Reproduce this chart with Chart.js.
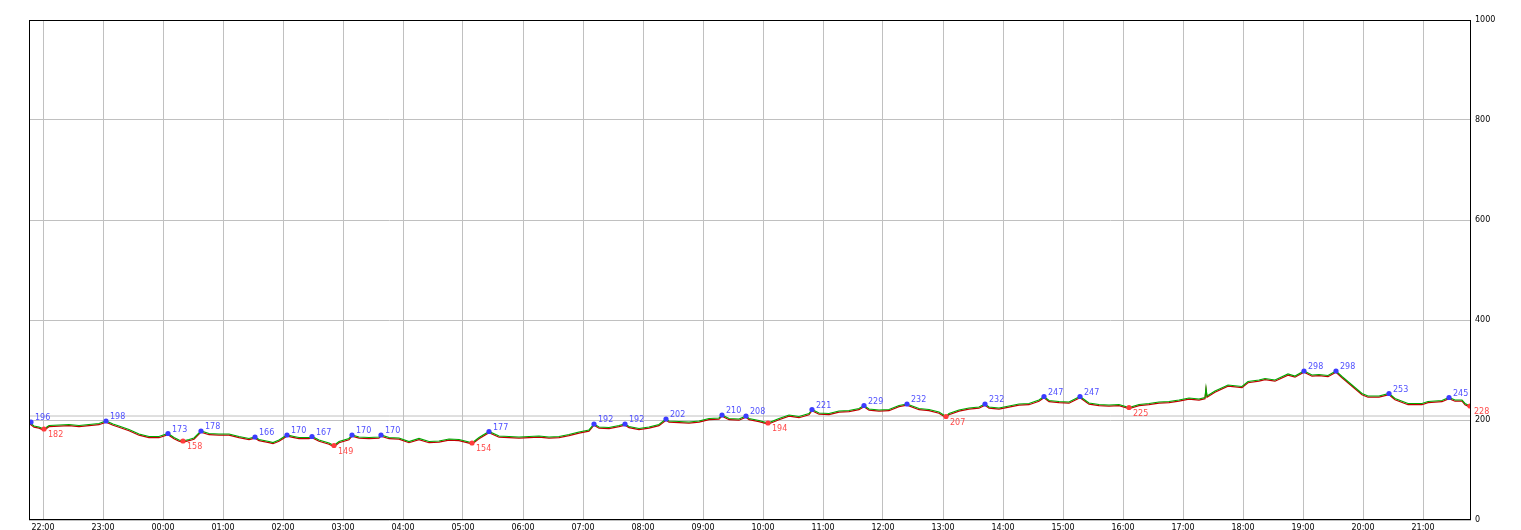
<!DOCTYPE html>
<html>
<head>
<meta charset="utf-8">
<script src="https://cdn.jsdelivr.net/npm/chart.js@4.4.1/dist/chart.umd.min.js"></script>
<style>
  html, body { margin: 0; padding: 0; background: #fff; }
  canvas { display: block; }
</style>
</head>
<body>
<canvas id="priceChart" width="1521" height="530"></canvas>
<script>
document.addEventListener('DOMContentLoaded', function () {
    // Window starts at 21:46, all times are minutes from there
    const startTime = '21:46';
    const windowMinutes = 1442;

    const hourLabels = ['22:00', '23:00', '00:00', '01:00', '02:00', '03:00', '04:00', '05:00',
        '06:00', '07:00', '08:00', '09:00', '10:00', '11:00', '12:00', '13:00', '14:00', '15:00',
        '16:00', '17:00', '18:00', '19:00', '20:00', '21:00'];

    const priceMinutes = [0, 5, 10, 15, 20, 30, 40, 50, 60, 70, 77, 84, 90, 100, 110, 120, 130, 139, 145, 150,
        154, 160, 165, 172, 180, 190, 200, 210, 220, 226, 230, 240, 244, 250, 258, 265, 270, 280, 283, 290,
        300, 305, 310, 320, 323, 330, 340, 350, 352, 360, 370, 380, 390, 400, 410, 420, 430, 440, 443, 450,
        460, 470, 480, 490, 500, 510, 520, 530, 540, 550, 560, 565, 570, 580, 590, 596, 600, 610, 620, 630,
        637, 640, 650, 660, 670, 680, 690, 693, 700, 710, 717, 720, 730, 739, 750, 760, 770, 780, 783, 790,
        800, 810, 820, 830, 835, 840, 850, 860, 870, 878, 890, 900, 910, 917, 920, 930, 940, 950, 956, 960,
        970, 980, 990, 1000, 1010, 1015, 1020, 1030, 1040, 1051, 1060, 1070, 1080, 1090, 1100, 1110, 1120, 1130, 1140, 1150,
        1160, 1170, 1176, 1177, 1178, 1186, 1199, 1213, 1219, 1230, 1236, 1246, 1259, 1266, 1275, 1283, 1290, 1299, 1307, 1313,
        1323, 1333, 1339, 1350, 1360, 1366, 1379, 1393, 1399, 1413, 1420, 1426, 1433, 1436, 1441];

    const priceValues = [196, 188, 186, 182, 189, 190, 191, 189, 191, 193, 198, 192, 188, 181, 172, 167, 167, 173, 165, 160,
        158, 161, 164, 178, 173, 172, 172, 167, 163, 166, 161, 157, 155, 160, 170, 167, 165, 165, 167, 160,
        154, 149, 157, 163, 170, 166, 165, 166, 170, 165, 164, 157, 163, 157, 158, 162, 161, 156, 154, 165,
        177, 168, 167, 166, 167, 168, 166, 167, 171, 176, 180, 192, 186, 185, 189, 192, 187, 183, 186, 191,
        202, 198, 197, 196, 198, 203, 204, 210, 203, 202, 208, 203, 199, 194, 203, 210, 207, 213, 221, 214,
        213, 218, 219, 223, 229, 222, 220, 221, 229, 232, 223, 221, 216, 207, 213, 220, 224, 226, 232, 226,
        224, 228, 232, 233, 240, 247, 239, 237, 236, 247, 234, 231, 230, 231, 225, 231, 233, 236, 237, 240,
        244, 242, 245, 264, 248, 258, 270, 267, 277, 280, 283, 280, 292, 288, 298, 290, 291, 289, 298, 287,
        270, 253, 248, 248, 253, 243, 233, 233, 237, 239, 245, 240, 240, 233, 228];

    // Marked highs (blue) and lows (red)
    const highMinutes = [2, 77, 139, 172, 226, 258, 283, 323, 352, 460, 565, 596, 637, 693, 717, 783, 835, 878,
        956, 1015, 1051, 1275, 1307, 1360, 1420];
    const highValues = [196, 198, 173, 178, 166, 170, 167, 170, 170, 177, 192, 192, 202, 210, 208, 221, 229, 232,
        232, 247, 247, 298, 298, 253, 245];
    const lowMinutes = [15, 154, 305, 443, 739, 917, 1100, 1441];
    const lowValues = [182, 158, 149, 154, 194, 207, 225, 228];

    const refLevel = 208;
    const yMax = 1000;
    const yStep = 200;

    function minutesFromStart(label) {
        const [h, m] = label.split(':').map(Number);
        const [sh, sm] = startTime.split(':').map(Number);
        return ((h * 60 + m) - (sh * 60 + sm) + 1440) % 1440;
    }
    const hourTicks = hourLabels.map(minutesFromStart);

    const FONT = 'DejaVu Sans';

    const priceData = priceMinutes.map((m, i) => ({ x: m, y: priceValues[i] }));

    // red copy sits a little under the green one
    const shiftRed = {
        id: 'shiftRed',
        beforeDatasetDraw(chart, args) {
            if (args.index === 1) {
                chart.ctx.save();
                chart.ctx.translate(0, 1.2);
            }
        },
        afterDatasetDraw(chart, args) {
            if (args.index === 1) chart.ctx.restore();
        }
    };

    const frame = {
        id: 'frame',
        afterDraw(chart) {
            const a = chart.chartArea;
            const ctx = chart.ctx;
            ctx.save();
            ctx.strokeStyle = '#000';
            ctx.lineWidth = 1;
            ctx.strokeRect(Math.round(a.left) + 0.5, Math.round(a.top) + 0.5,
                Math.round(a.right - a.left) - 1, Math.round(a.bottom - a.top) - 1);
            ctx.restore();
        }
    };

    const markerLabels = {
        id: 'markerLabels',
        afterDatasetsDraw(chart) {
            const ctx = chart.ctx;
            const xs = chart.scales.x;
            const ys = chart.scales.y;
            ctx.save();
            ctx.font = '8px "' + FONT + '"';
            ctx.textBaseline = 'middle';
            ctx.textAlign = 'left';
            ctx.fillStyle = '#5050ff';
            highMinutes.forEach((m, i) => {
                ctx.fillText(String(highValues[i]), xs.getPixelForValue(m) + 4, ys.getPixelForValue(highValues[i]) - 4);
            });
            ctx.fillStyle = '#ff4a4a';
            lowMinutes.forEach((m, i) => {
                ctx.fillText(String(lowValues[i]), xs.getPixelForValue(m) + 4, ys.getPixelForValue(lowValues[i]) + 6);
            });
            ctx.restore();
        }
    };

    new Chart(document.getElementById('priceChart'), {
        type: 'line',
        data: {
            datasets: [
                {
                    label: 'up',
                    data: priceData,
                    borderColor: '#00a800',
                    borderWidth: 1.2,
                    pointRadius: 0,
                    order: 2
                },
                {
                    label: 'down',
                    data: priceData,
                    borderColor: '#c00000',
                    borderWidth: 1.2,
                    pointRadius: 0,
                    order: 3
                },
                {
                    label: 'level',
                    data: [{ x: 0, y: refLevel }, { x: windowMinutes, y: refLevel }],
                    borderColor: '#c0c0c0',
                    borderWidth: 1,
                    pointRadius: 0,
                    order: 4
                },
                {
                    label: 'highs',
                    data: highMinutes.map((m, i) => ({ x: m, y: highValues[i] })),
                    showLine: false,
                    pointRadius: 2.6,
                    pointBackgroundColor: '#3c3cff',
                    pointBorderWidth: 0,
                    order: 1
                },
                {
                    label: 'lows',
                    data: lowMinutes.map((m, i) => ({ x: m, y: lowValues[i] })),
                    showLine: false,
                    pointRadius: 2.6,
                    pointBackgroundColor: '#ff3c3c',
                    pointBorderWidth: 0,
                    order: 1
                }
            ]
        },
        options: {
            responsive: false,
            animation: false,
            devicePixelRatio: 1,
            layout: { padding: { left: 29, top: 20, right: 0, bottom: 0 } },
            plugins: {
                legend: { display: false },
                tooltip: { enabled: false }
            },
            scales: {
                x: {
                    type: 'linear',
                    min: 0,
                    max: windowMinutes,
                    afterBuildTicks: scale => { scale.ticks = hourTicks.map(v => ({ value: v })); },
                    afterFit: scale => { scale.height = 10; },
                    grid: { color: '#c0c0c0', drawTicks: false },
                    border: { display: false },
                    ticks: {
                        autoSkip: false,
                        maxRotation: 0,
                        padding: 3,
                        color: '#000',
                        font: { family: FONT, size: 8 },
                        callback: (v, i) => hourLabels[i]
                    }
                },
                y: {
                    position: 'right',
                    min: 0,
                    max: yMax,
                    afterFit: scale => { scale.width = 50; },
                    grid: { color: '#c0c0c0', drawTicks: false },
                    border: { display: false },
                    ticks: {
                        stepSize: yStep,
                        padding: 4,
                        color: '#000',
                        font: { family: FONT, size: 8 },
                        callback: v => String(v)
                    }
                }
            }
        },
        plugins: [shiftRed, frame, markerLabels]
    });
});
</script>
</body>
</html>
